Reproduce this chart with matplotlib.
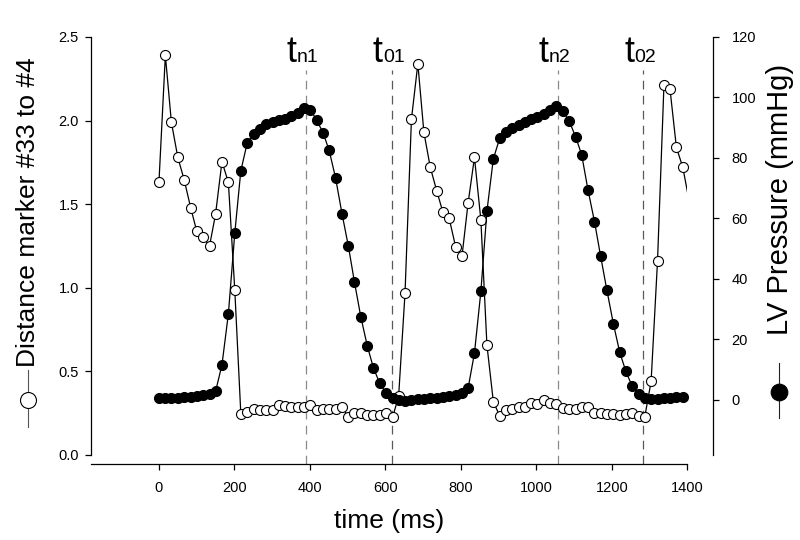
import matplotlib
matplotlib.use('Agg')
import matplotlib.pyplot as plt
from matplotlib.lines import Line2D
from matplotlib.patches import Rectangle

plt.rcParams['font.family'] = ['Liberation Sans', 'DejaVu Sans']

# ---------------- data ----------------
time_ms = [0, 17, 33, 50, 67, 84, 100, 117, 134, 150, 167, 184, 201, 217, 234, 251,
           268, 284, 301, 318, 334, 351, 368, 385, 401, 418, 435, 451, 468, 485, 502,
           518, 535, 552, 568, 585, 602, 619, 635, 652, 669, 686, 702, 719, 736, 752,
           769, 786, 803, 819, 836, 853, 869, 886, 903, 920, 936, 953, 970, 986, 1003,
           1020, 1037, 1053, 1070, 1087, 1104, 1120, 1137, 1154, 1170, 1187, 1204,
           1221, 1237, 1254, 1271, 1287, 1304, 1321, 1338, 1354, 1371, 1388, 1404]

distance = [1.63, 2.39, 1.99, 1.78, 1.645, 1.48, 1.34, 1.305, 1.25, 1.44, 1.755, 1.63,
            0.985, 0.245, 0.257, 0.277, 0.269, 0.269, 0.269, 0.30, 0.293, 0.289, 0.289,
            0.289, 0.299, 0.269, 0.273, 0.273, 0.273, 0.285, 0.229, 0.253, 0.249, 0.239,
            0.238, 0.237, 0.249, 0.225, 0.35, 0.967, 2.008, 2.34, 1.93, 1.72, 1.58,
            1.455, 1.415, 1.246, 1.19, 1.505, 1.78, 1.405, 0.658, 0.319, 0.233, 0.269,
            0.277, 0.289, 0.289, 0.313, 0.305, 0.329, 0.309, 0.305, 0.279, 0.277, 0.277,
            0.289, 0.285, 0.253, 0.249, 0.245, 0.245, 0.239, 0.245, 0.25, 0.235, 0.225,
            0.44, 1.16, 2.21, 2.19, 1.84, 1.72, 1.53]

pressure = [0.5, 0.6, 0.7, 0.8, 0.9, 1.1, 1.3, 1.6, 2.0, 2.8, 11.6, 28.5, 55.2, 75.8,
            85.0, 88.0, 89.7, 91.3, 92.0, 92.7, 93.0, 93.8, 94.9, 96.6, 96.0, 92.5, 88.3,
            82.5, 73.4, 61.6, 50.8, 39.0, 27.4, 17.9, 10.7, 5.5, 2.4, 0.8, 0.0, -0.2,
            0.0, 0.2, 0.4, 0.6, 0.8, 1.0, 1.3, 1.6, 2.2, 3.8, 15.5, 35.9, 62.4, 79.7,
            86.6, 88.6, 90.0, 91.0, 92.0, 92.8, 93.5, 94.5, 95.8, 97.1, 95.5, 92.2, 87.0,
            81.1, 69.3, 59.0, 47.7, 36.2, 25.2, 15.7, 9.5, 4.5, 2.0, 0.8, 0.3, 0.3, 0.5,
            0.7, 0.9, 1.1]

event_times = [389, 617, 1057, 1283]
event_subs = ['n1', '01', 'n2', '02']
event_colors = ['#8a8a8a', '#5a5a5a', '#8a8a8a', '#5a5a5a']

x_ticks = [0, 200, 400, 600, 800, 1000, 1200, 1400]
left_ticks = [0.0, 0.5, 1.0, 1.5, 2.0, 2.5]
right_ticks = [0, 20, 40, 60, 80, 100, 120]

x_end = 1400  # the time axis ends here

# ---------------- figure ----------------
W, H = 800, 540
fig = plt.figure(figsize=(W / 100, H / 100), dpi=100)
ax = fig.add_axes([91 / W, 1 - 455 / H, (713 - 91) / W, (455 - 37) / H])
ax.set_xlim(-180, 1468)
ax.set_ylim(0, 2.5)
ax2 = ax.twinx()
ax2.set_ylim(-18.2, 120)

n_p = len(pressure)
ax2.plot(time_ms[:n_p], pressure, color='black', lw=0.9, marker='o', ms=7.2,
         mfc='black', mec='black', mew=0.8, zorder=3)

# distance: line runs to the end of the time axis, markers only inside it
line, = ax.plot(time_ms, distance, color='black', lw=0.9, zorder=3)
clip = Rectangle((-180, -1), x_end + 180, 5, transform=ax.transData)
line.set_clip_path(clip)
vis_t = [t for t in time_ms if t <= x_end]
vis_d = [d for t, d in zip(time_ms, distance) if t <= x_end]
ax.plot(vis_t, vis_d, ls='none', marker='o', ms=7.2, mfc='white', mec='black',
        mew=0.8, zorder=3)

# event lines and labels
for t, sub, c in zip(event_times, event_subs, event_colors):
    ax.axvline(t, ymin=-9 / 418, ymax=(455 - 70) / 418, color=c, lw=0.9,
               ls=(0, (7, 5)), clip_on=False, zorder=1)
    ax.annotate('t', xy=(t, (455 - 62) / 418), xycoords=ax.get_xaxis_transform(),
                xytext=(-6.5, 0), textcoords='offset points', ha='right', va='baseline',
                fontsize=26, annotation_clip=False)
    ax.annotate(sub, xy=(t, (455 - 62) / 418), xycoords=ax.get_xaxis_transform(),
                xytext=(-6.5, 0), textcoords='offset points', ha='left', va='baseline',
                fontsize=14, annotation_clip=False)

# spines
for s in ['top', 'right']:
    ax.spines[s].set_visible(False)
for s in ['top', 'left', 'bottom']:
    ax2.spines[s].set_visible(False)
ax.spines['bottom'].set_position(('outward', 6.5))
ax.spines['bottom'].set_bounds(-180, x_end)
for sp in [ax.spines['left'], ax.spines['bottom'], ax2.spines['right']]:
    sp.set_linewidth(0.9)

ax.set_xticks(x_ticks)
ax.set_xticklabels([str(v) for v in x_ticks])
ax.set_yticks(left_ticks)
ax.set_yticklabels([f'{v:.1f}' for v in left_ticks])
ax2.set_yticks(right_ticks)
ax2.set_yticklabels([str(v) for v in right_ticks])

ax.tick_params(axis='x', direction='out', length=4.3, width=0.9, labelsize=10.5, pad=8)
ax.tick_params(axis='y', direction='out', length=4.3, width=0.9, labelsize=10.5, pad=4.5)
ax2.tick_params(axis='y', direction='out', length=4.3, width=0.9, labelsize=10.5, pad=9)

# axis labels
fig.text(28 / W, 1 - 212 / H, 'Distance marker #33 to #4', rotation=90,
         ha='center', va='center', fontsize=19)
fig.text(780 / W, 1 - 199 / H, 'LV Pressure (mmHg)', rotation=90,
         ha='center', va='center', fontsize=21)
fig.text(389 / W, 1 - 521 / H, 'time (ms)', ha='center', va='center', fontsize=19)

# legend symbols beside axis labels
fig.add_artist(Line2D([28 / W, 28 / W], [1 - 370 / H, 1 - 427 / H], color='#555555',
                      lw=0.8, transform=fig.transFigure))
fig.add_artist(Line2D([28 / W], [1 - 400 / H], marker='o', ms=11.5, mfc='white',
                      mec='black', mew=0.8, ls='none', transform=fig.transFigure))
fig.add_artist(Line2D([779 / W, 779 / W], [1 - 363 / H, 1 - 418 / H], color='#222222',
                      lw=0.8, transform=fig.transFigure))
fig.add_artist(Line2D([779 / W], [1 - 392 / H], marker='o', ms=12, mfc='black',
                      mec='black', mew=0.8, ls='none', transform=fig.transFigure))

fig.savefig('out.png', dpi=100)
